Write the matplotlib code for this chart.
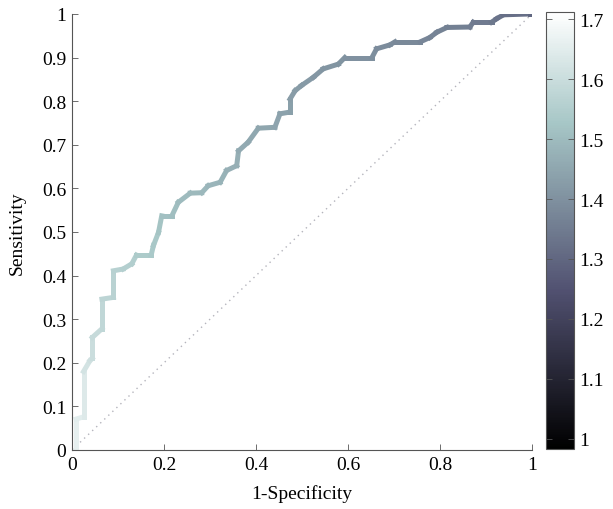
import numpy as np
import matplotlib
matplotlib.use("Agg")
import matplotlib.pyplot as plt
from matplotlib.collections import LineCollection
from matplotlib.colors import Normalize

plt.rcParams['font.family'] = ['Liberation Serif', 'DejaVu Serif']

# ROC curve vertices
fpr = [0, 0.009, 0.009, 0.025, 0.025, 0.039, 0.044, 0.044, 0.065, 0.065,
       0.09, 0.09, 0.111, 0.13, 0.14, 0.172, 0.177, 0.188, 0.195, 0.217,
       0.231, 0.257, 0.282, 0.296, 0.322, 0.336, 0.358, 0.362, 0.383, 0.405,
       0.441, 0.452, 0.474, 0.474, 0.485, 0.499, 0.525, 0.546, 0.579, 0.593,
       0.652, 0.662, 0.691, 0.702, 0.757, 0.778, 0.793, 0.815, 0.865, 0.872,
       0.912, 0.923, 0.938, 0.996, 1.0]
tpr = [0, 0, 0.071, 0.076, 0.18, 0.205, 0.21, 0.258, 0.278, 0.346,
       0.35, 0.411, 0.415, 0.427, 0.447, 0.447, 0.469, 0.499, 0.537, 0.537,
       0.568, 0.589, 0.59, 0.606, 0.614, 0.641, 0.652, 0.686, 0.706, 0.738,
       0.74, 0.771, 0.775, 0.805, 0.824, 0.836, 0.855, 0.874, 0.885, 0.9,
       0.9, 0.92, 0.929, 0.936, 0.936, 0.946, 0.958, 0.969, 0.97, 0.981,
       0.981, 0.989, 0.998, 1.0, 1.0]
# threshold at each vertex (colour)
thr = [1.67, 1.66, 1.65, 1.64, 1.62, 1.61, 1.60, 1.59, 1.58, 1.57,
       1.565, 1.56, 1.555, 1.55, 1.54, 1.535, 1.53, 1.52, 1.51, 1.505,
       1.50, 1.495, 1.49, 1.485, 1.48, 1.475, 1.47, 1.46, 1.455, 1.45,
       1.445, 1.44, 1.435, 1.43, 1.425, 1.42, 1.415, 1.41, 1.405, 1.40,
       1.395, 1.39, 1.385, 1.38, 1.375, 1.37, 1.365, 1.36, 1.355, 1.35,
       1.34, 1.33, 1.32, 1.30, 1.28]

cmin, cmax = 0.983, 1.712
xticks = [0, 0.2, 0.4, 0.6, 0.8, 1]
yticks = [0, 0.1, 0.2, 0.3, 0.4, 0.5, 0.6, 0.7, 0.8, 0.9, 1]
cticks = [1, 1.1, 1.2, 1.3, 1.4, 1.5, 1.6, 1.7]

fig = plt.figure(figsize=(6.13, 5.10), dpi=100)
ax = fig.add_axes([0.1175, 0.1157, 0.7504, 0.855])
cax = fig.add_axes([0.8907, 0.1176, 0.0457, 0.8569])

# chance line
ax.plot([0, 1], [0, 1], linestyle=(0, (1, 3)), color='#b4b4bc', linewidth=1.0)

pts = np.column_stack([fpr, tpr]).reshape(-1, 1, 2)
segs = np.concatenate([pts[:-1], pts[1:]], axis=1)
norm = Normalize(cmin, cmax)
lc = LineCollection(segs, cmap='bone', norm=norm, linewidths=3.6,
                    capstyle='projecting', joinstyle='miter')
lc.set_array(np.array(thr[:-1]))
ax.add_collection(lc)

ax.set_xlim(0, 1)
ax.set_ylim(0, 1)
ax.set_xticks(xticks)
ax.set_xticklabels(['%g' % t for t in xticks])
ax.set_yticks(yticks)
ax.set_yticklabels(['%g' % t for t in yticks])
for s in ['top', 'right']:
    ax.spines[s].set_visible(False)
for s in ['left', 'bottom']:
    ax.spines[s].set_color('#555555')
    ax.spines[s].set_linewidth(0.8)
ax.tick_params(direction='in', length=4, width=0.6, color='#555555',
               labelsize=14, pad=4)
ax.set_xlabel('1-Specificity', fontsize=14, labelpad=8)
ax.set_ylabel('Sensitivity', fontsize=14, labelpad=12)

sm = plt.cm.ScalarMappable(norm=norm, cmap='bone')
cb = fig.colorbar(sm, cax=cax)
cb.set_ticks(cticks)
cb.set_ticklabels(['%g' % t for t in cticks])
cb.outline.set_edgecolor('#555555')
cb.outline.set_linewidth(0.8)
cax.tick_params(direction='in', length=4, width=0.6, color='#555555',
                labelsize=14, left=True, right=True, pad=4)

fig.savefig('out.png', dpi=100)
